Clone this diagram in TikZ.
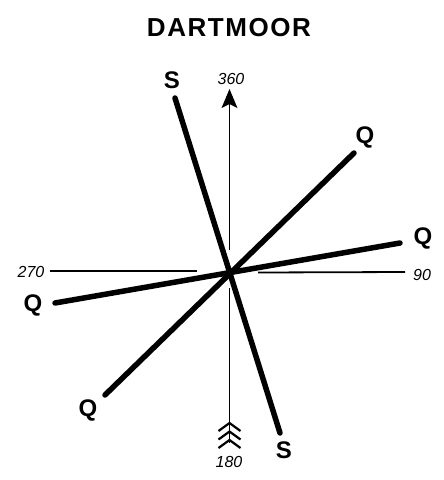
\documentclass[tikz,border=0pt]{standalone}
\usepackage{fontspec}
\setmainfont{Liberation Sans}
\usetikzlibrary{arrows.meta}
\tikzset{
  thick line/.style={line width=5.5pt, line cap=round},
  thin line/.style={line width=1.8pt},
  feather/.style={line width=2.2pt},
  headfill/.style={fill=black},
  letter/.style={font=\fontsize{24}{24}\selectfont\bfseries, inner sep=0pt},
  degree/.style={font=\fontsize{16}{16}\selectfont\itshape, inner sep=0pt},
  titlestyle/.style={font=\fontsize{26}{26}\selectfont\bfseries\addfontfeatures{LetterSpace=6}, inner sep=0pt}
}
\begin{document}
\begin{tikzpicture}[x=1pt,y=-1pt]
\useasboundingbox (0,0) rectangle (444,480);
\node[titlestyle] (title) at (229,28) {DARTMOOR};
% centre
\coordinate (c) at (230,272);
% compass axis
\coordinate (ntip) at (229.5,89);
\coordinate (nbase) at (229.5,104);
\coordinate (ngap) at (229.5,250);
\coordinate (sgap) at (229.5,288);
\coordinate (send) at (229.5,443);
\coordinate (wend) at (50,271);
\coordinate (wgap) at (197,271);
\coordinate (egap) at (258,272.5);
\coordinate (eend) at (405,272);
\draw[thin line] (ngap) -- (nbase);
\fill[headfill] (ntip) -- (237.5,108) -- (nbase) -- (221.5,108) -- cycle;
\draw[thin line] (sgap) -- (send);
\draw[thin line] (wend) -- (wgap);
\draw[thin line] (egap) -- (eend);
% feathers
\foreach \yy in {423,431.5,440}{
  \draw[feather] (218.5,\yy+8) -- (229.5,\yy) -- (240.5,\yy+8);
}
\node[degree] (n360) at (231,79) {360};
\node[degree] (n270) at (31,271.5) {270};
\node[degree] (n90) at (422,275) {90};
\node[degree] (n180) at (229,461.5) {180};
% thick lines
\coordinate (s1) at (175,98);
\coordinate (s2) at (280,433);
\coordinate (qa1) at (105,395);
\coordinate (qa2) at (354,153);
\coordinate (qb1) at (55,303);
\coordinate (qb2) at (400,243);
\draw[thick line] (s1) -- (s2);
\draw[thick line] (qa1) -- (qa2);
\draw[thick line] (qb1) -- (qb2);
% labels
\node[letter] (stop) at (172,80) {S};
\node[letter] (sbot) at (284,450) {S};
\node[letter] (qur) at (365,137) {Q};
\node[letter] (qr) at (423,238) {Q};
\node[letter] (qll) at (88,410) {Q};
\node[letter] (ql) at (33,305) {Q};
\end{tikzpicture}
\end{document}
